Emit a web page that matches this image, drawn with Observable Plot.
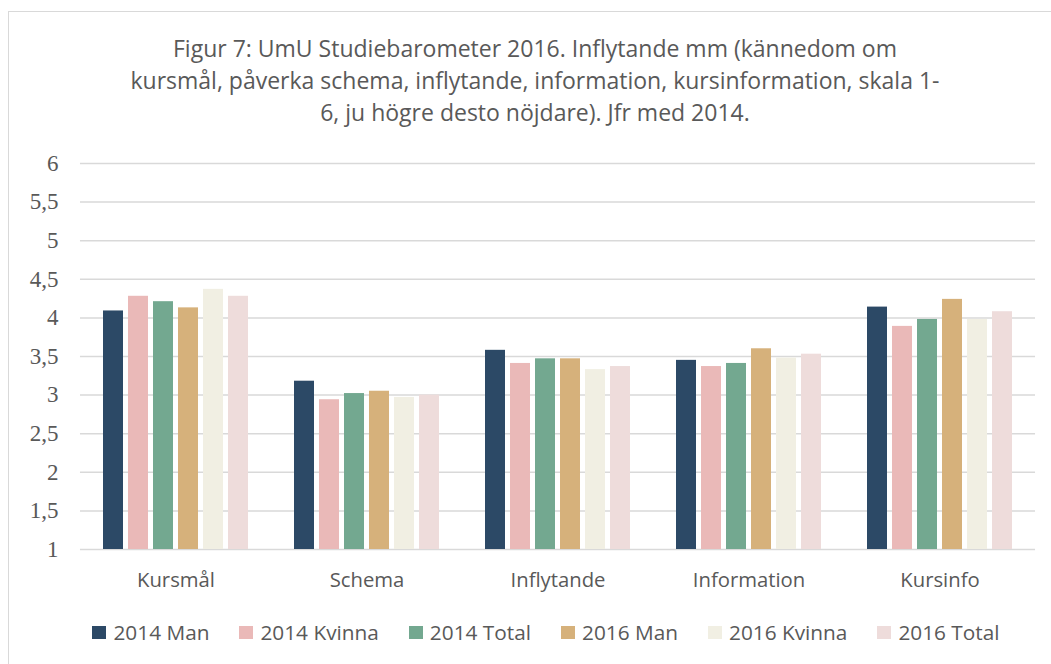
<!DOCTYPE html>
<html>
<head>
<meta charset="utf-8">
<script src="https://cdn.jsdelivr.net/npm/d3@7"></script>
<script src="https://cdn.jsdelivr.net/npm/@observablehq/plot@0.6"></script>
<style>
  body { margin: 0; overflow: hidden; background: #fff; width: 1051px; height: 664px; position: relative; }
  #frame { position: absolute; left: 8px; top: 11px; width: 1100px; height: 700px; border: 1.5px solid #d9d9d9; box-sizing: border-box; }
  #title { position: absolute; left: 0; width: 1070px; top: 32px; text-align: center; font-family: "Open Sans", sans-serif; font-size: 23px; line-height: 32px; color: #595959; }
  #chart { position: absolute; left: 0; top: 130px; }
  #legend { position: absolute; left: 0; width: 1092px; top: 618px; display: flex; justify-content: center; font-family: "Open Sans", sans-serif; font-size: 20.8px; color: #595959; }
  .item { display: flex; align-items: center; margin: 0 15px; }
  .sw { width: 14px; height: 13px; margin-right: 7px; }
</style>
</head>
<body>
<div id="frame"></div>
<div id="title">Figur 7: UmU Studiebarometer 2016. Inflytande mm (kännedom om<br>kursmål, påverka schema, inflytande, information, kursinformation, skala 1-<br>6, ju högre desto nöjdare). Jfr med 2014.</div>
<div id="chart"></div>
<div id="legend"></div>
<script>
const categories = ["Kursmål", "Schema", "Inflytande", "Information", "Kursinfo"];
const seriesNames = ["2014 Man", "2014 Kvinna", "2014 Total", "2016 Man", "2016 Kvinna", "2016 Total"];
const colors = ["#2c4966", "#eab9b8", "#73a890", "#d6b17b", "#f1efe3", "#eedcdb"];
const man2014 =    [4.09, 3.18, 3.58, 3.45, 4.14];
const kvinna2014 = [4.28, 2.94, 3.41, 3.37, 3.89];
const total2014 =  [4.21, 3.02, 3.47, 3.41, 3.98];
const man2016 =    [4.13, 3.05, 3.47, 3.60, 4.24];
const kvinna2016 = [4.37, 2.97, 3.33, 3.48, 3.98];
const total2016 =  [4.28, 3.00, 3.37, 3.53, 4.08];
const yTicks = [1, 1.5, 2, 2.5, 3, 3.5, 4, 4.5, 5, 5.5, 6];

const seriesValues = [man2014, kvinna2014, total2014, man2016, kvinna2016, total2016];
const data = [];
categories.forEach((c, i) => {
  seriesNames.forEach((s, j) => data.push({cat: c, series: s, value: seriesValues[j][i]}));
});

const W = 1051, mL = 79, mR = 14;
const fxPadIn = 0.23, fxPadOut = 0.115;
const step = (W - mL - mR) / (categories.length - fxPadIn + 2 * fxPadOut);
const halfGap = step * fxPadIn / 2;

const chart = Plot.plot({
  width: W,
  height: 470,
  marginLeft: mL,
  marginRight: mR,
  marginTop: 33,
  marginBottom: 51,
  fx: {domain: categories, paddingInner: fxPadIn, paddingOuter: fxPadOut, label: null},
  x: {domain: seriesNames, paddingInner: 0.216, paddingOuter: 0, axis: null},
  y: {domain: [1, 6], label: null},
  color: {domain: seriesNames, range: colors},
  style: {background: "transparent"},
  marks: [
    Plot.ruleY(yTicks, {stroke: "#d9d9d9", strokeWidth: 1.5, insetLeft: -halfGap, insetRight: -halfGap}),
    Plot.barY(data, {fx: "cat", x: "series", y1: 1, y2: "value", fill: "series"}),
    Plot.axisY(yTicks, {tickSize: 0, tickPadding: 44, tickFormat: d => String(d).replace(".", ","), fontFamily: "'Liberation Serif', serif", fontSize: 23, fill: "#595959", label: null}),
    Plot.axisFx({anchor: "bottom", tickSize: 0, tickPadding: 23, fontFamily: "'Open Sans', sans-serif", fontSize: 20.3, fill: "#595959", label: null})
  ]
});
document.getElementById("chart").appendChild(chart);

const legend = document.getElementById("legend");
seriesNames.forEach((s, j) => {
  const it = document.createElement("div");
  it.className = "item";
  const sw = document.createElement("div");
  sw.className = "sw";
  sw.style.background = colors[j];
  it.appendChild(sw);
  const t = document.createElement("span");
  t.textContent = s;
  it.appendChild(t);
  legend.appendChild(it);
});
</script>
</body>
</html>
